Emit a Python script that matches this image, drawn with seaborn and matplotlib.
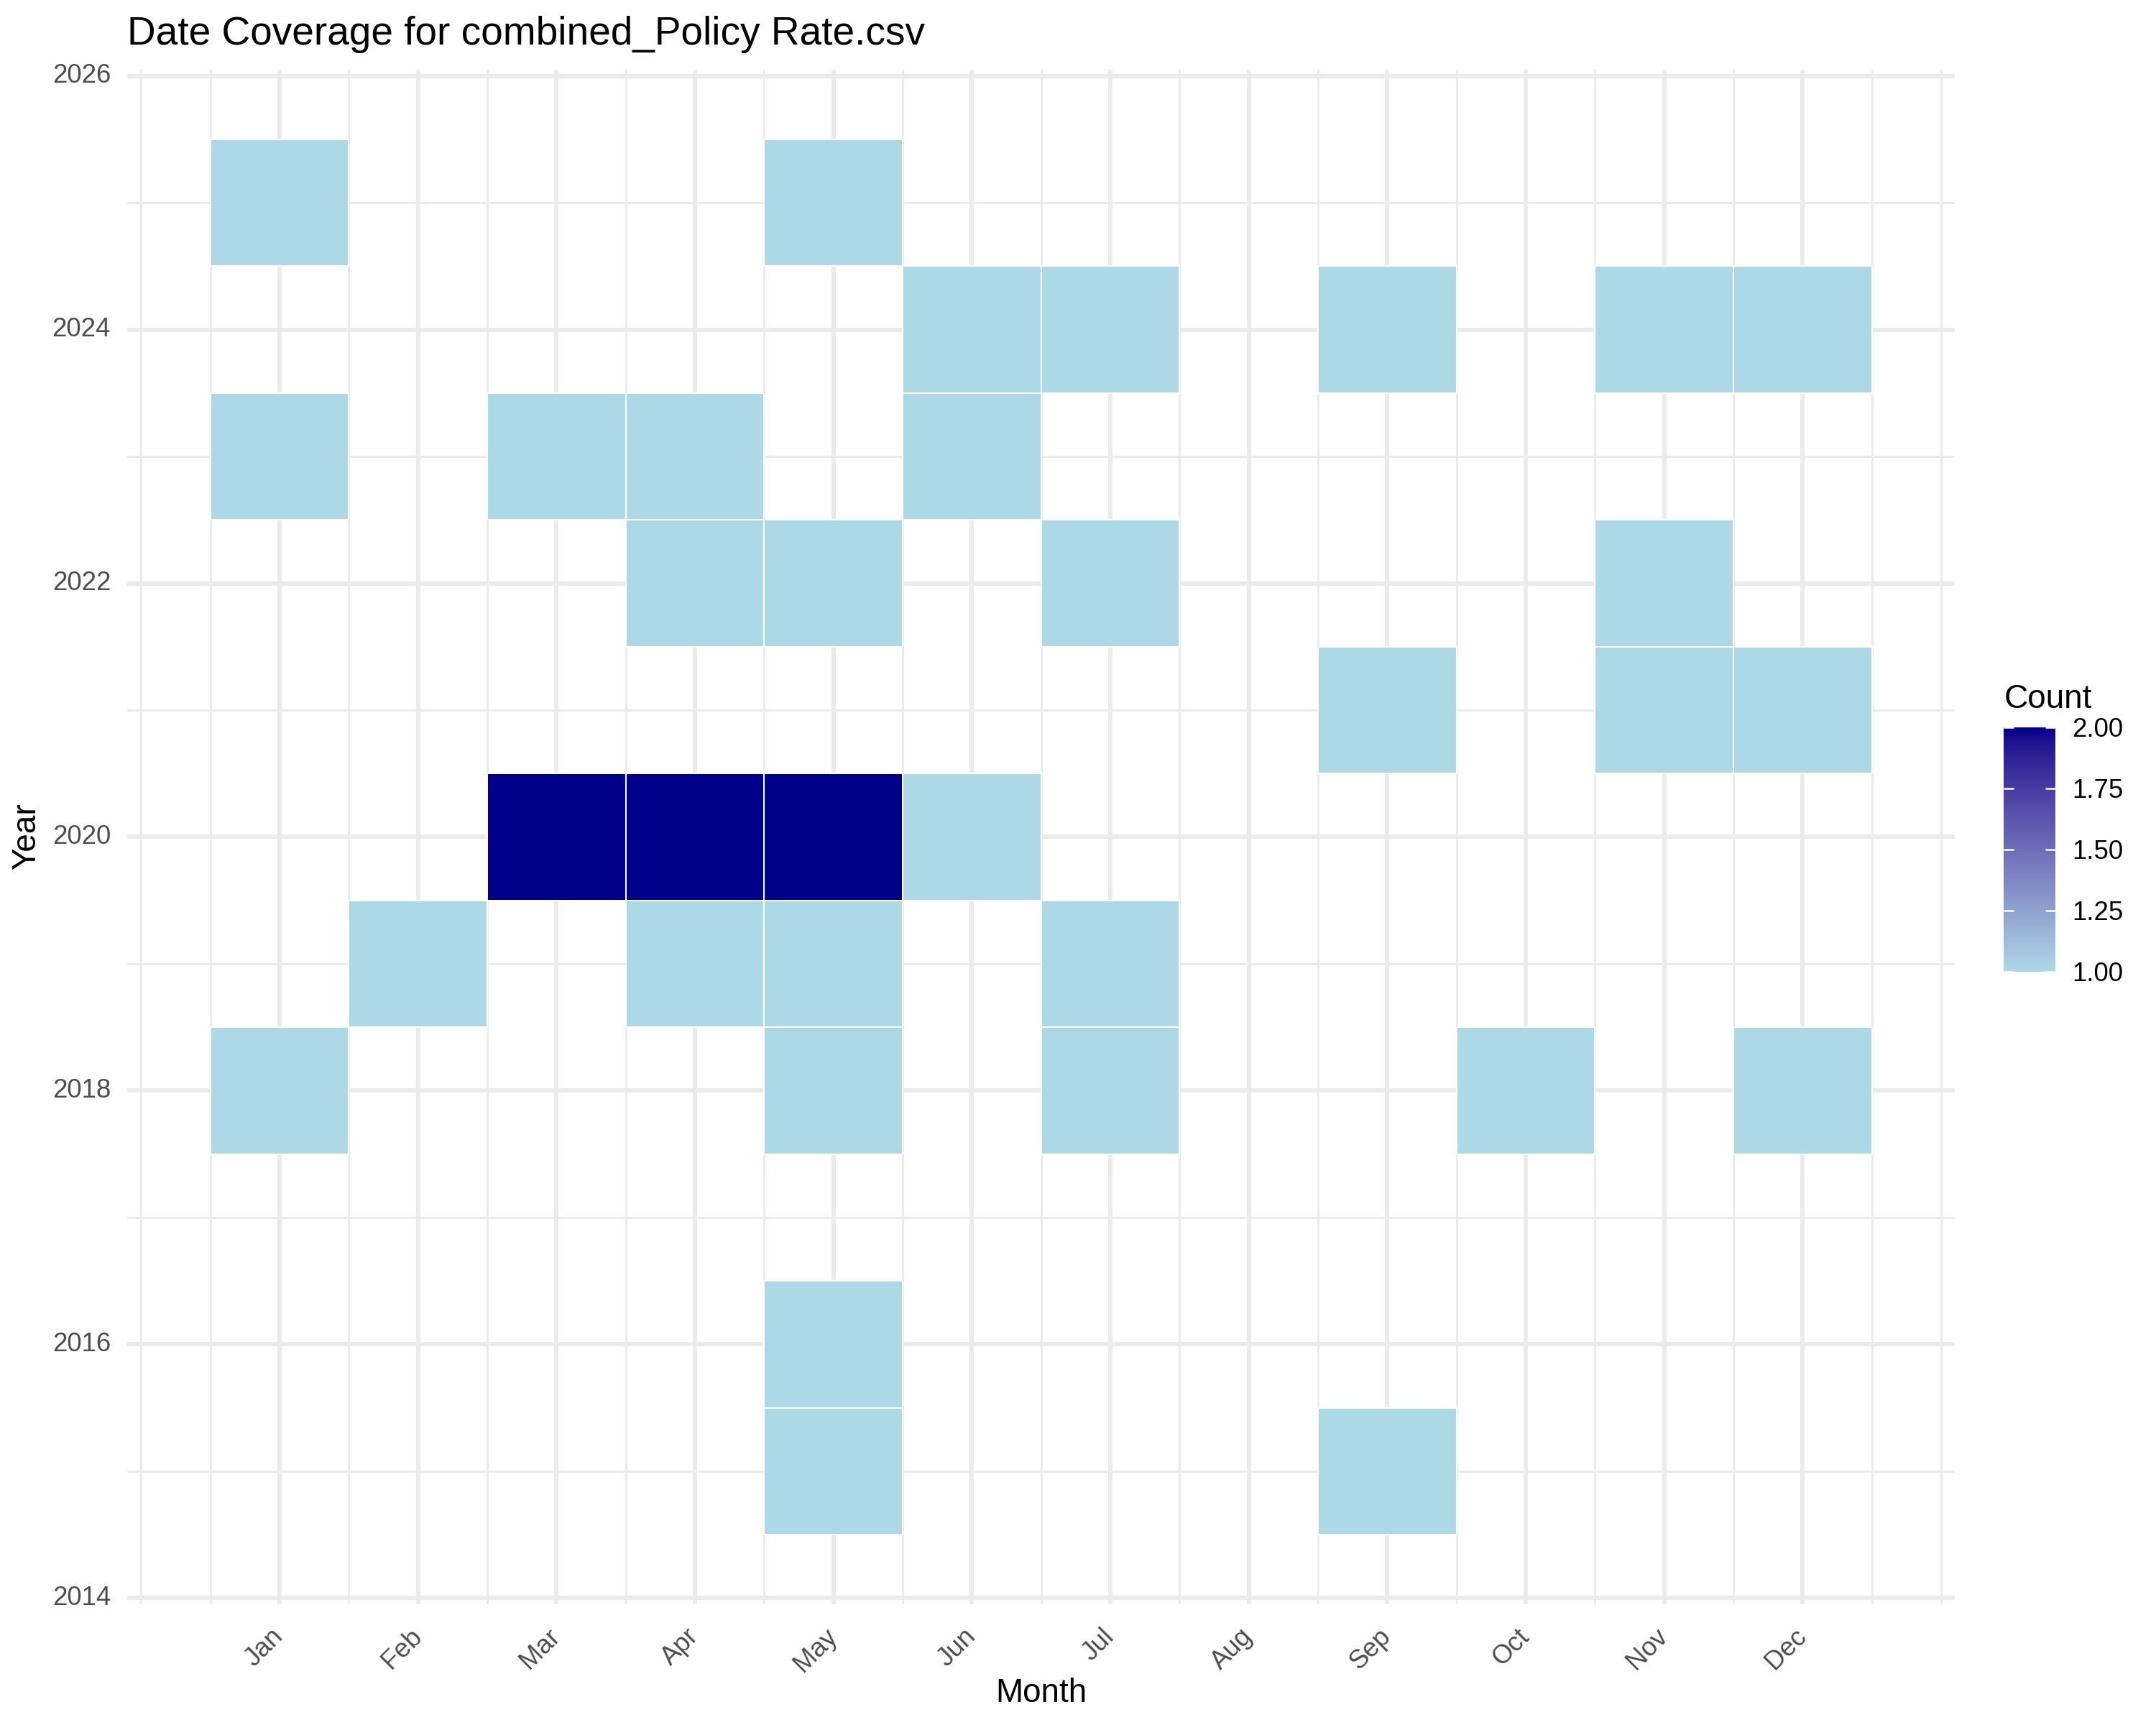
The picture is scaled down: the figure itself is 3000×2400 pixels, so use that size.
import numpy as np
import pandas as pd
import seaborn as sns
import matplotlib.pyplot as plt
import matplotlib.colors as mcolors
import matplotlib.transforms as mtransforms

# =========================
# DATA
# =========================
years = [2025, 2025,
         2024, 2024, 2024, 2024, 2024,
         2023, 2023, 2023, 2023,
         2022, 2022, 2022, 2022,
         2021, 2021, 2021,
         2020, 2020, 2020, 2020,
         2019, 2019, 2019, 2019,
         2018, 2018, 2018, 2018, 2018,
         2016,
         2015, 2015]
months = [1, 5,
          6, 7, 9, 11, 12,
          1, 3, 4, 6,
          4, 5, 7, 11,
          9, 11, 12,
          3, 4, 5, 6,
          2, 4, 5, 7,
          1, 5, 7, 10, 12,
          5,
          5, 9]
counts = [1, 1,
          1, 1, 1, 1, 1,
          1, 1, 1, 1,
          1, 1, 1, 1,
          1, 1, 1,
          2, 2, 2, 1,
          1, 1, 1, 1,
          1, 1, 1, 1, 1,
          1,
          1, 1]
month_labels = ["Jan", "Feb", "Mar", "Apr", "May", "Jun",
                "Jul", "Aug", "Sep", "Oct", "Nov", "Dec"]
year_ticks = [2014, 2016, 2018, 2020, 2022, 2024, 2026]
cbar_ticks = [1.00, 1.25, 1.50, 1.75, 2.00]

df = pd.DataFrame({"Year": years, "Month": months, "Count": counts})
row_years = list(range(max(years), min(years) - 1, -1))
grid = (df.pivot_table(index="Year", columns="Month", values="Count", aggfunc="sum")
          .reindex(index=row_years, columns=range(1, 13)))

# =========================
# COLOURS (ggplot-like gradient in Lab space)
# =========================
M = np.array([[0.4124564, 0.3575761, 0.1804375],
              [0.2126729, 0.7151522, 0.0721750],
              [0.0193339, 0.1191920, 0.9503041]])
WHITE = np.array([0.95047, 1.0, 1.08883])


def to_lab(col):
    rgb = np.array(mcolors.to_rgb(col))
    lin = np.where(rgb <= 0.04045, rgb / 12.92, ((rgb + 0.055) / 1.055) ** 2.4)
    xyz = M @ lin / WHITE
    f = np.where(xyz > (6 / 29) ** 3, np.cbrt(xyz), xyz / (3 * (6 / 29) ** 2) + 4 / 29)
    return np.array([116 * f[1] - 16, 500 * (f[0] - f[1]), 200 * (f[1] - f[2])])


def from_lab(lab):
    fy = (lab[0] + 16) / 116
    f = np.array([fy + lab[1] / 500, fy, fy - lab[2] / 200])
    xyz = np.where(f > 6 / 29, f ** 3, 3 * (6 / 29) ** 2 * (f - 4 / 29)) * WHITE
    lin = np.linalg.solve(M, xyz)
    rgb = np.where(lin <= 0.0031308, 12.92 * lin, 1.055 * np.abs(lin) ** (1 / 2.4) - 0.055)
    return np.clip(rgb, 0, 1)


lo, hi = to_lab("lightblue"), to_lab("darkblue")
ramp = [from_lab(lo + t * (hi - lo)) for t in np.linspace(0, 1, 256)]
cmap = mcolors.ListedColormap(ramp)
cmap.set_bad((1, 1, 1, 0))

# =========================
# PLOT
# =========================
plt.rcParams["font.family"] = ["Liberation Sans", "DejaVu Sans"]

fig = plt.figure(figsize=(10, 8), dpi=300)
ax = fig.add_axes([0.059, 0.07, 0.8477, 0.8896])
cax = fig.add_axes([0.9293, 0.4367, 0.024, 0.1417])

sns.heatmap(grid, ax=ax, cmap=cmap, vmin=1, vmax=2,
            linewidths=0.4, linecolor="white", cbar_ax=cax)

# white borders only round the filled tiles
mesh = ax.collections[0]
filled = ~np.isnan(grid.values).ravel()
edges = np.zeros((filled.size, 4))
edges[filled] = (1, 1, 1, 1)
mesh.set_edgecolor(edges)

# heatmap coords: month m -> m - 0.5, year y -> top_year + 0.5 - y
top = max(years) + 0.5
ax.set_xlim(-0.6, 12.6)
ax.set_ylim(top - 2013.95, top - 2026.05)

ax.set_xticks([m - 0.5 for m in range(1, 13)])
ax.set_xticklabels(month_labels, rotation=45, ha="right", va="center",
                   rotation_mode="anchor", fontsize=8.8, color="#4D4D4D")
ax.set_xticks([m - 0.5 for m in np.arange(0, 13.01, 0.5)], minor=True)
shift = mtransforms.ScaledTranslation(2.4 / 72, 0, fig.dpi_scale_trans)
for lab in ax.get_xticklabels():
    lab.set_transform(lab.get_transform() + shift)

ax.set_yticks([top - y for y in year_ticks])
ax.set_yticklabels([str(y) for y in year_ticks], rotation=0,
                   fontsize=8.8, color="#4D4D4D")
ax.set_yticks([top - y for y in range(2015, 2026, 2)], minor=True)

ax.tick_params(axis="x", which="both", length=0, pad=9.5)
ax.tick_params(axis="y", which="both", length=0, pad=5.5)

ax.set_axisbelow(True)
ax.grid(True, which="major", color="#EBEBEB", linewidth=1.42)
ax.grid(True, which="minor", color="#EBEBEB", linewidth=0.71)
for s in ax.spines.values():
    s.set_visible(False)

ax.set_xlabel("")
ax.set_ylabel("")
fig.text(0.4828, 0.0135, "Month", ha="center", va="baseline", fontsize=11)
fig.text(0.0125, 0.515, "Year", ha="center", va="center",
         rotation=90, fontsize=11)
fig.text(0.059, 0.974, "Date Coverage for combined_Policy Rate.csv",
         ha="left", va="baseline", fontsize=13.2)

# colorbar
cax.set_yticks(cbar_ticks)
cax.set_yticklabels([f"{t:.2f}" for t in cbar_ticks], fontsize=8.8, color="black")
cax.tick_params(axis="y", which="both", direction="in", length=3.4,
                color="white", width=0.6, left=True, right=True, pad=5.5)
cax.minorticks_off()
for s in cax.spines.values():
    s.set_visible(False)
fig.text(0.9297, 1 - 985 / 2400, "Count", ha="left", va="baseline", fontsize=11)

plt.savefig("out.png", dpi=300)
